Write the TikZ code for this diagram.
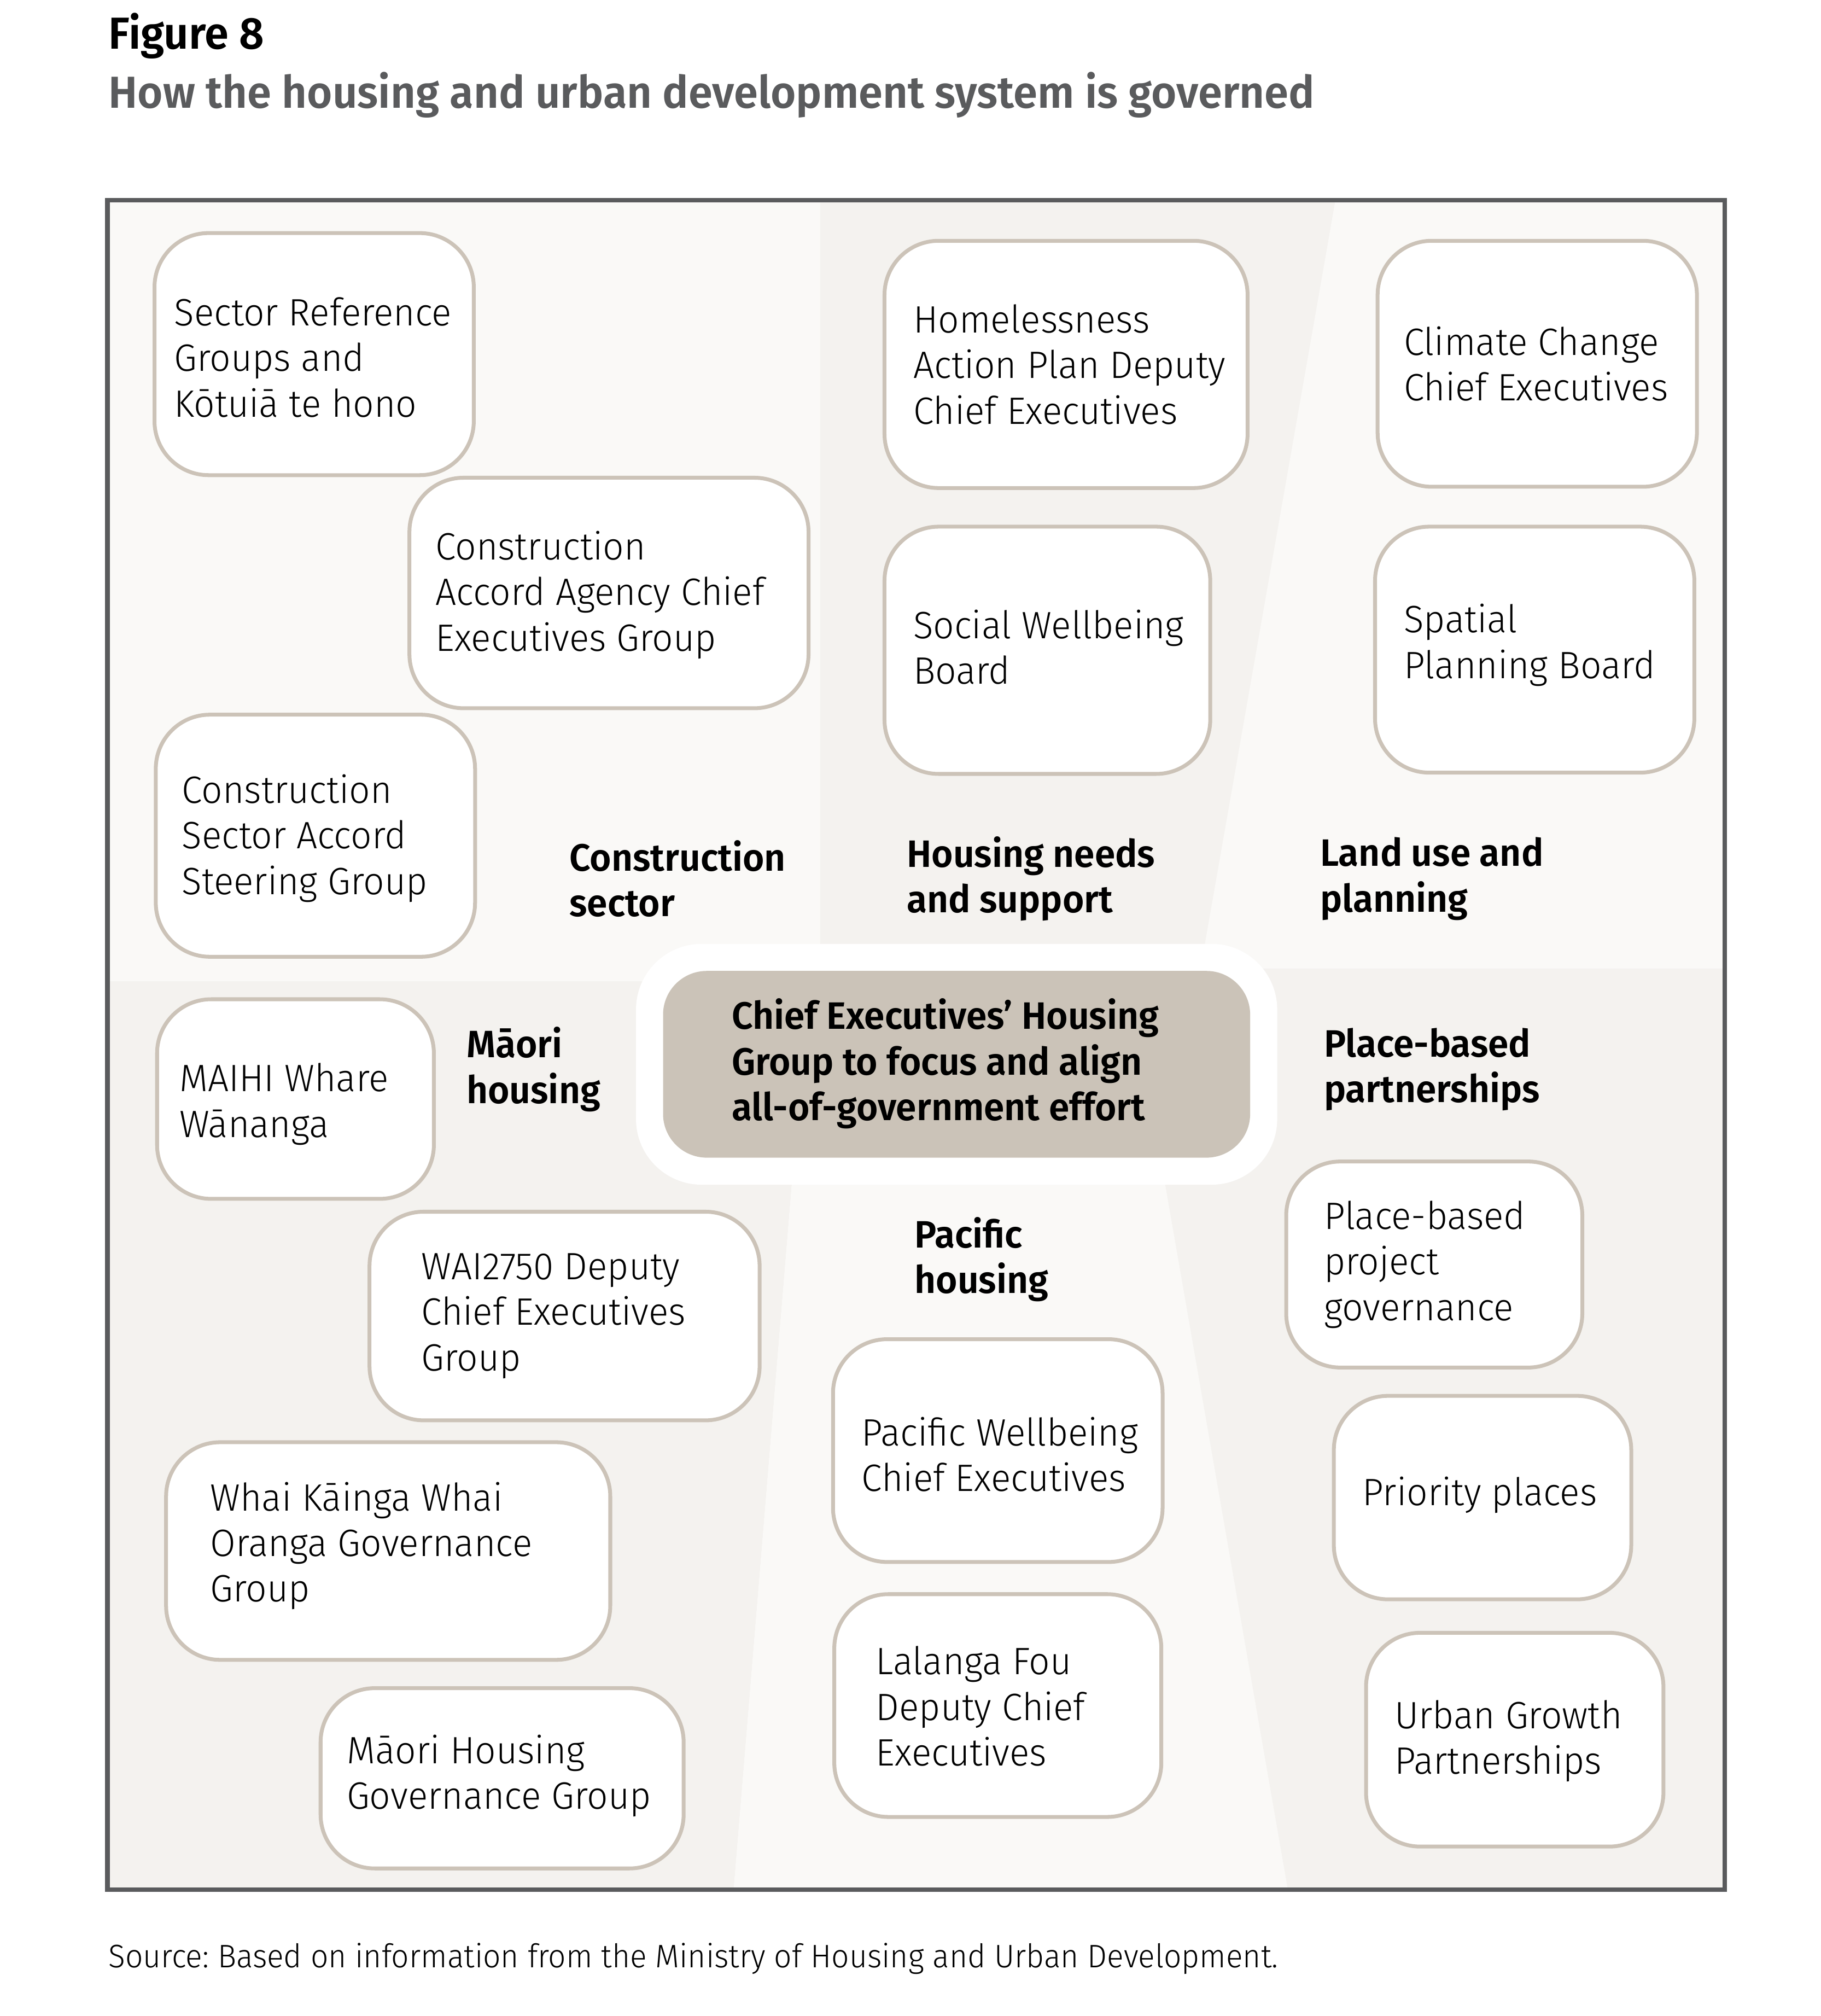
\documentclass[tikz,border=0pt]{standalone}
\usepackage{fontspec}
\setmainfont{Fira Sans}
\newfontfamily\lightfont{Fira Sans}[UprightFont={* Light}, FakeStretch=0.97]
\newfontfamily\semifont{Fira Sans}[UprightFont={* SemiBold}, FakeStretch=0.97]
\newfontfamily\sourcefont{Fira Sans}[UprightFont={* Light}, FakeStretch=0.955]
\usepackage{xcolor}
\frenchspacing

\definecolor{framegray}{HTML}{5A5B5D}
\definecolor{boxline}{HTML}{CCC3B8}
\definecolor{corefill}{HTML}{CBC3B8}
\definecolor{zonelight}{HTML}{FAF9F7}
\definecolor{zonedark}{HTML}{F4F2EF}

\tikzset{
  govbox/.style={draw=boxline, line width=1.7pt, fill=white, rounded corners=0.84cm},
  boxtext/.style={anchor=west, align=left, inner sep=0pt, font=\lightfont\fontsize{16.85pt}{20.14pt}\selectfont},
  zonelabel/.style={anchor=west, align=left, inner sep=0pt, font=\semifont\fontsize{16.85pt}{20.14pt}\selectfont},
}

\begin{document}
\begin{tikzpicture}[x=0.2mm, y=-0.2mm]
  \useasboundingbox (0,0) rectangle (1414,1565.6);

  % Title
  \node[anchor=base west, inner sep=0pt, font=\semifont\fontsize{19.8pt}{24pt}\selectfont] (fignum) at (84,38) {Figure 8};
  \node[anchor=base west, inner sep=0pt, text=framegray, font=\semifont\fontsize{19.8pt}{24pt}\selectfont] (figtitle) at (84,84) {How the housing and urban development system is governed};

  % Background zones
  \fill[zonelight] (85,157) rectangle (637,762);
  \fill[zonedark] (637,157) -- (1037,157) -- (936,740) -- (637,740) -- cycle;
  \fill[zonelight] (1037,157) -- (1338,157) -- (1338,752) -- (932.5,752) -- cycle;
  \fill[zonedark] (85,762) -- (615,762) -- (615,920) -- (570,1466) -- (85,1466) -- cycle;
  \fill[zonelight] (615,920) -- (905,920) -- (1000,1466) -- (570,1466) -- cycle;
  \fill[zonedark] (905,752) -- (1338,752) -- (1338,1466) -- (1000,1466) -- (905,920) -- cycle;

  % Central group
  \fill[white, rounded corners=1.02cm] (494,733) rectangle (992,920);
  \fill[corefill, rounded corners=0.68cm] (515,754) rectangle (971,899);
  \node[zonelabel] (core) at (568,826) {Chief Executives’ Housing\\Group to focus and align\\all-of-government effort};

  % Construction sector
  \draw[govbox] (120,181) rectangle (368,369);
  \node[boxtext] (sectorref) at (135,277.5) {Sector Reference\\Groups and\\Kōtuiā te hono};
  \draw[govbox] (318,371) rectangle (628,550);
  \node[boxtext] (accordce) at (338,462) {Construction\\Accord Agency Chief\\Executives Group};
  \draw[govbox] (121,555) rectangle (369,743);
  \node[boxtext] (steering) at (141,651) {Construction\\Sector Accord\\Steering Group};

  % Housing needs and support
  \draw[govbox] (687,187) rectangle (969,379);
  \node[boxtext] (homeless) at (709,283) {Homelessness\\Action Plan Deputy\\Chief Executives};
  \draw[govbox] (687,409) rectangle (940,601);
  \node[boxtext] (socialwb) at (709,502.5) {Social Wellbeing\\Board};

  % Land use and planning
  \draw[govbox] (1070,187) rectangle (1318,378);
  \node[boxtext] (climate) at (1090,282.5) {Climate Change\\Chief Executives};
  \draw[govbox] (1068,409) rectangle (1316,600);
  \node[boxtext] (spatial) at (1090,501) {Spatial\\Planning Board};

  % Maori housing
  \draw[govbox] (122,776) rectangle (337,931);
  \node[boxtext] (maihi) at (139,857.5) {MAIHI Whare\\Wānanga};
  \draw[govbox] (287,941) rectangle (590,1103);
  \node[boxtext] (waitribunal) at (327,1022) {WAI2750 Deputy\\Chief Executives\\Group};
  \draw[govbox] (129,1120) rectangle (474,1289);
  \node[boxtext] (whaikainga) at (163,1200.5) {Whai Kāinga Whai\\Oranga Governance\\Group};
  \draw[govbox] (249,1311) rectangle (531,1451);
  \node[boxtext] (maorigov) at (269,1379) {Māori Housing\\Governance Group};

  % Pacific housing
  \draw[govbox] (647,1040) rectangle (903,1213);
  \node[boxtext] (pacificwb) at (669,1129.5) {Pacific Wellbeing\\Chief Executives};
  \draw[govbox] (648,1238) rectangle (902,1411);
  \node[boxtext] (lalanga) at (680,1325) {Lalanga Fou\\Deputy Chief\\Executives};

  % Place-based partnerships
  \draw[govbox] (999,902) rectangle (1229,1062);
  \node[boxtext] (placeproj) at (1028,982) {Place-based\\project\\governance};
  \draw[govbox] (1036,1084) rectangle (1267,1242);
  \node[boxtext] (priority) at (1058,1161) {Priority places};
  \draw[govbox] (1061,1268) rectangle (1292,1434);
  \node[boxtext] (urbangrowth) at (1083,1352) {Urban Growth\\Partnerships};

  % Zone labels
  \node[zonelabel] (construction) at (442,682.5) {Construction\\sector};
  \node[zonelabel] (housingneeds) at (704,682.5) {Housing needs\\and support};
  \node[zonelabel] (landuse) at (1025,682.5) {Land use and\\planning};
  \node[zonelabel] (maori) at (362,830.5) {Māori\\housing};
  \node[zonelabel] (placebased) at (1028,830.5) {Place-based\\partnerships};
  \node[zonelabel] (pacific) at (710,978) {Pacific\\housing};

  % Frame
  \draw[framegray, line width=2pt] (83.5,155.5) rectangle (1339.5,1467.5);

  % Source
  \node[anchor=base west, inner sep=0pt, font=\sourcefont\fontsize{14.4pt}{17pt}\selectfont] (source) at (84,1528) {Source: Based on information from the Ministry of Housing and Urban Development.};

\end{tikzpicture}
\end{document}
